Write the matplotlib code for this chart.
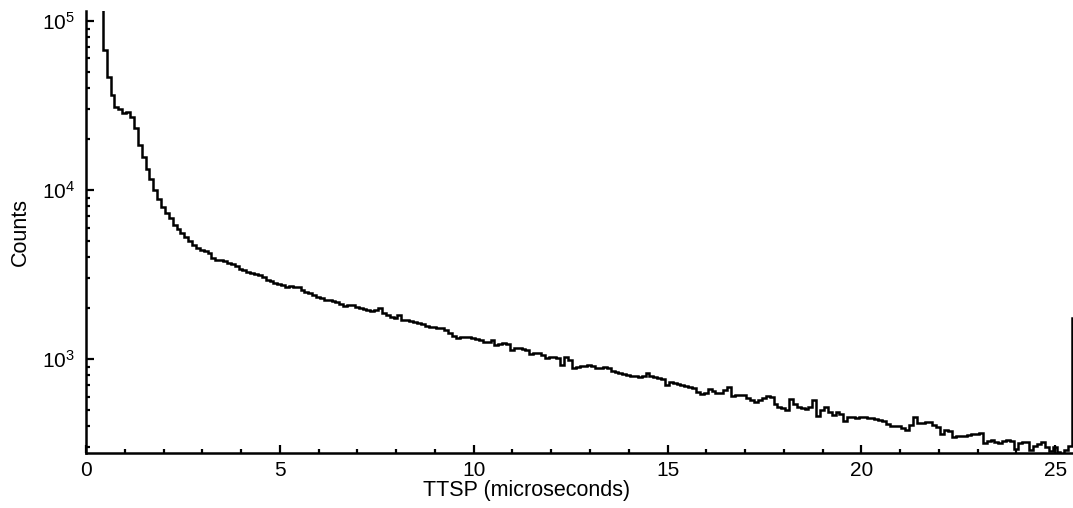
import matplotlib
matplotlib.use("Agg")
import matplotlib.pyplot as plt
import numpy as np
from matplotlib.ticker import LogLocator, MultipleLocator, NullFormatter, FixedLocator

plt.rcParams['font.family'] = ['Liberation Sans', 'DejaVu Sans']
plt.rcParams['mathtext.fontset'] = 'custom'
plt.rcParams['mathtext.rm'] = 'Liberation Sans'
plt.rcParams['mathtext.it'] = 'Liberation Sans'

# Histogram of TTSP: bin width 0.1 microseconds
bin_width = 0.1
first_edge = 0.335
counts = [
    200000,
    67300, 46630, 36490, 30980, 30160, 28550, 28940, 27040, 23280, 18470,
    15680, 13320, 11620, 10000, 8845, 7933, 7310, 6829, 6207, 5876,
    5566, 5270, 4992, 4727, 4538, 4416, 4356, 4239, 3960, 3854,
    3854, 3802, 3700, 3650, 3551, 3409, 3363, 3273, 3228, 3185,
    3141, 3057, 2935, 2895, 2818, 2780, 2742, 2668, 2705, 2668,
    2668, 2561, 2492, 2458, 2392, 2328, 2296, 2235, 2235, 2205,
    2175, 2116, 2059, 2087, 2087, 2031, 2004, 1977, 1950, 1924,
    1950, 2004, 1872, 1822, 1773, 1748, 1822, 1702, 1702, 1679,
    1656, 1634, 1612, 1569, 1547, 1547, 1527, 1527, 1485, 1426,
    1368, 1331, 1349, 1349, 1349, 1331, 1313, 1296, 1261, 1261,
    1296, 1210, 1227, 1244, 1227, 1130, 1161, 1161, 1146, 1130,
    1070, 1085, 1085, 1056, 1014, 1028, 1028, 1014, 922, 1028,
    986, 885, 897, 909, 909, 922, 909, 885, 885, 897,
    885, 849, 838, 826, 815, 804, 793, 793, 782, 793,
    826, 793, 782, 772, 761, 702, 730, 720, 711, 702,
    692, 683, 674, 637, 620, 629, 664, 646, 629, 629,
    655, 683, 604, 612, 612, 612, 588, 572, 556, 572,
    588, 604, 596, 541, 519, 512, 499, 580, 541, 519,
    512, 506, 519, 572, 460, 499, 519, 486, 466, 486,
    472, 430, 453, 453, 447, 453, 453, 447, 447, 442,
    436, 430, 413, 402, 402, 402, 391, 380, 407, 453,
    418, 418, 424, 424, 407, 396, 360, 380, 375, 346,
    350, 350, 350, 355, 360, 360, 365, 319, 327, 332,
    323, 319, 327, 332, 327, 293, 319, 323, 323, 289,
    306, 314, 323, 302, 285, 302, 281, 275, 289, 306,
    1748,
]
edges = first_edge + bin_width * np.arange(len(counts) + 1)

x_ticks = [0, 5, 10, 15, 20, 25]
x_label = "TTSP (microseconds)"
y_label = "Counts"

W, H = 1073, 508
fig = plt.figure(figsize=(W / 100, H / 100), dpi=100)
ax_left, ax_right, ax_top, ax_bottom = 86, 1073, 11, 453
ax = fig.add_axes([ax_left / W, 1 - ax_bottom / H, (ax_right - ax_left) / W, (ax_bottom - ax_top) / H])

ax.stairs(counts, edges, baseline=None, color='black', linewidth=1.8)

ax.set_yscale('log')
ax.set_xlim(0, 25.46)
ax.set_ylim(278, 114600)

ax.xaxis.set_major_locator(FixedLocator(x_ticks))
ax.xaxis.set_minor_locator(MultipleLocator(1))
ax.yaxis.set_major_locator(LogLocator(base=10, numticks=10))
ax.yaxis.set_minor_locator(LogLocator(base=10, subs=np.arange(2, 10), numticks=20))
ax.yaxis.set_minor_formatter(NullFormatter())

for s in ['top', 'right']:
    ax.spines[s].set_visible(False)
for s in ['left', 'bottom']:
    ax.spines[s].set_linewidth(1.8)

ax.tick_params(axis='both', which='major', direction='in', length=6, width=1.6, labelsize=15, colors='black')
ax.tick_params(axis='both', which='minor', direction='in', length=3, width=1.6)
ax.tick_params(axis='x', which='major', pad=6)
ax.tick_params(axis='y', which='major', pad=8)

ax.set_xlabel(x_label, fontsize=15.5)
ax.xaxis.set_label_coords((527 - ax_left) / (ax_right - ax_left), -(480 - ax_bottom) / (ax_bottom - ax_top))
ax.set_ylabel(y_label, fontsize=15.5)
ax.yaxis.set_label_coords((20 - ax_left) / (ax_right - ax_left), 0.5)
ax.yaxis.label.set_verticalalignment('center')

fig.savefig('out.png', dpi=100)
